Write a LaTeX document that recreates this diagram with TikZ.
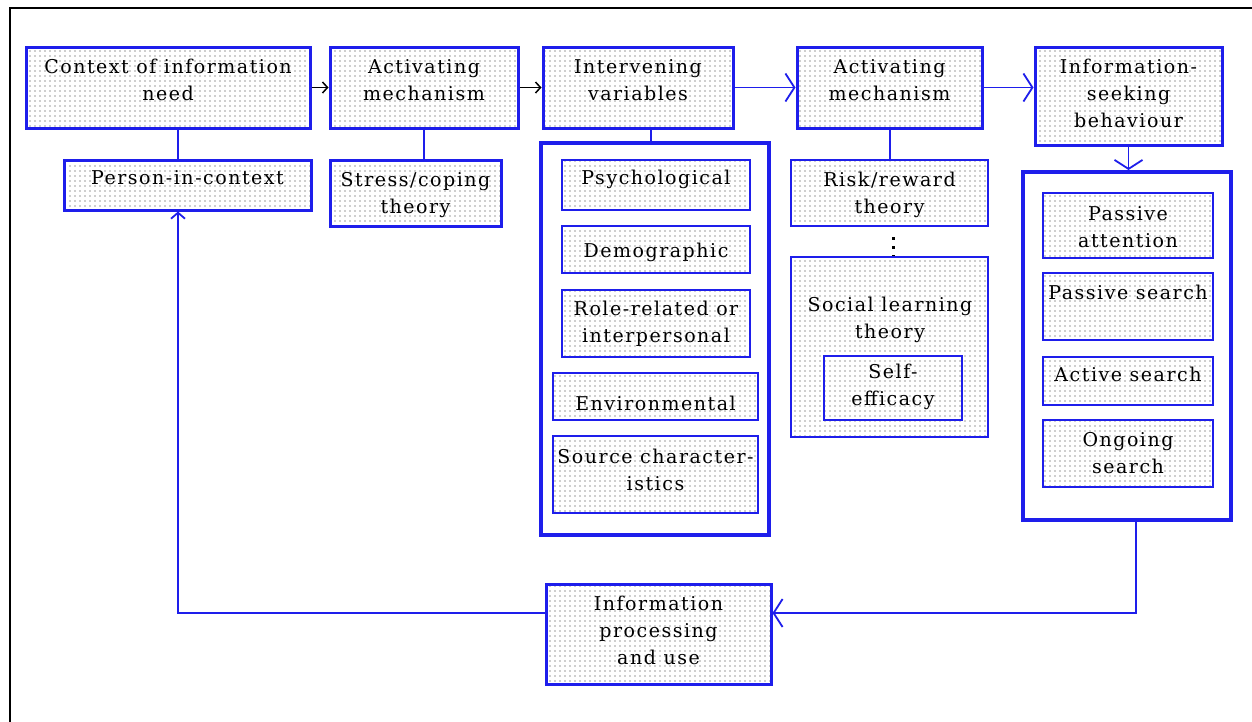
\documentclass[tikz,border=0pt]{standalone}
\usepackage{fontspec}
\setmainfont{DejaVu Serif}[LetterSpace=8]
\usetikzlibrary{arrows.meta,patterns.meta,calc}
\definecolor{bl}{RGB}{30,30,235}
\newcommand\bxfont{\fontsize{19}{27}\selectfont}
\newcommand\tb[1]{\rule{0pt}{#1pt}}
\newcommand\te[1]{\rule[-#1pt]{0pt}{0pt}}
\begin{document}
\begin{tikzpicture}[x=1pt,y=-1pt,
  rc/.style n args={4}{at={({(#1+#3)/2},{(#2+#4)/2})}, minimum width={(#3-#1)*1pt}, minimum height={(#4-#2)*1pt}},
  bx/.style={draw=bl, line width=2.5pt, inner sep=0pt, align=center, font=\bxfont,
    preaction={fill=white}, pattern={Dots[distance=5pt,radius=0.8pt]}, pattern color=black!38},
  mainbx/.style={bx, line width=3pt},
  cont/.style={draw=bl, line width=4pt, inner sep=0pt, fill=white},
  lbl/.style={inner sep=0pt, align=center, font=\bxfont},
  ln/.style={draw=bl, line width=2pt},
  barbk/.style={-{Straight Barb[length=5pt,width=11pt]}, line width=1.5pt, draw=black},
  barbl/.style={-{Straight Barb[length=9pt,width=28pt]}, line width=1.8pt, draw=bl},
  barbs/.style={-{Straight Barb[length=6pt,width=14pt]}, line width=1.8pt, draw=bl},
  dotv/.style={draw=black, line width=3pt, dash pattern=on 3pt off 6pt}
]
\useasboundingbox (0,0) rectangle (1252,721);
\clip (0,0) rectangle (1252,721);
\fill[white] (0,0) rectangle (1252,721);
\draw[line width=2pt] (10,740) -- (10,8) -- (1262,8);

% top row
\node[mainbx, rc={26}{47}{310}{128}] (ctx) {\tb{15}Context of information\\need\te{17}};
\node[mainbx, rc={330}{47}{518}{128}] (act1) {\tb{15}Activating\\mechanism\te{17}};
\node[mainbx, rc={543}{47}{733}{128}] (iv) {\tb{15}Intervening\\variables\te{17}};
\node[mainbx, rc={797}{47}{982}{128}] (act2) {\tb{15}Activating\\mechanism\te{17}};
\node[mainbx, rc={1035}{47}{1222}{145}] (isb) {\tb{15}Information-\\seeking\\behaviour\te{7}};

% second level
\node[mainbx, rc={64}{160}{311}{210}] (person) {\tb{15}Person-in-context\te{17}};
\node[mainbx, rc={330}{160}{501}{226}] (stress) {\tb{20}Stress/coping\\theory\te{7}};

\node[cont, rc={541}{143}{769}{535}] (ivc) {};
\node[bx, rc={562}{160}{750}{210}] (psych) {\tb{15}Psychological\te{17}};
\node[bx, rc={562}{226}{750}{273}] (demo) {\tb{20}Demographic\te{5}};
\node[bx, rc={562}{290}{750}{357}] (role) {\tb{16}Role-related or\\interpersonal\te{6}};
\node[bx, rc={553}{373}{758}{420}] (env) {\tb{30}Environmental\te{3}};
\node[bx, rc={553}{436}{758}{513}] (src) {\tb{16}Source character-\\istics\te{12}};

\node[bx, rc={791}{160}{988}{226}] (risk) {\tb{18}Risk/reward\\theory\te{5}};
\node[bx, rc={791}{257}{988}{437}] (social) {};
\node[lbl] (sltext) at (890,325) {\tb{15}Social learning\\theory\te{15}};
\node[bx, rc={824}{356}{962}{420}] (self) {\tb{16}Self-\\efficacy\te{9}};

\node[cont, rc={1023}{172}{1231}{520}] (seekc) {};
\node[bx, rc={1043}{193}{1213}{258}] (pa) {\tb{20}Passive\\attention\te{4}};
\node[bx, rc={1043}{273}{1213}{340}] (ps) {\tb{15}Passive search\te{30}};
\node[bx, rc={1043}{357}{1213}{405}] (as) {\tb{15}Active search\te{15}};
\node[bx, rc={1043}{420}{1213}{487}] (os) {\tb{17}Ongoing\\search\te{5}};

\node[mainbx, rc={546}{584}{771}{684}] (proc) {\tb{16}Information\\processing\\and use\te{10}};

% helper coordinates
\coordinate (lx) at (178,0);
\coordinate (vx) at (651,0);
\coordinate (rx) at (890,0);
\coordinate (dx) at (893,0);
\coordinate (qx) at (1136,0);
\coordinate (ly) at (0,613);

% connectors
\draw[barbk] (ctx) -- (act1);
\draw[barbk] (act1) -- (iv);
\draw[barbl] (iv) -- (act2);
\draw[barbl] (act2.east) -- (act2.east -| isb.west);
\draw[barbl] (isb.south) -- (isb.south |- seekc.north);
\draw[ln] (ctx.south -| lx) -- (person.north -| lx);
\draw[ln] (act1.south) -- (act1.south |- stress.north);
\draw[ln] (iv.south -| vx) -- (ivc.north -| vx);
\draw[ln] (act2.south -| rx) -- (risk.north -| rx);
\draw[dotv] ($(risk.south -| dx)+(0,10)$) -- (social.north -| dx);
\draw[barbl] (seekc.south -| qx) |- (proc.east |- ly);
\draw[barbs] (proc.west |- ly) -| (person.south -| lx);
\end{tikzpicture}
\end{document}
